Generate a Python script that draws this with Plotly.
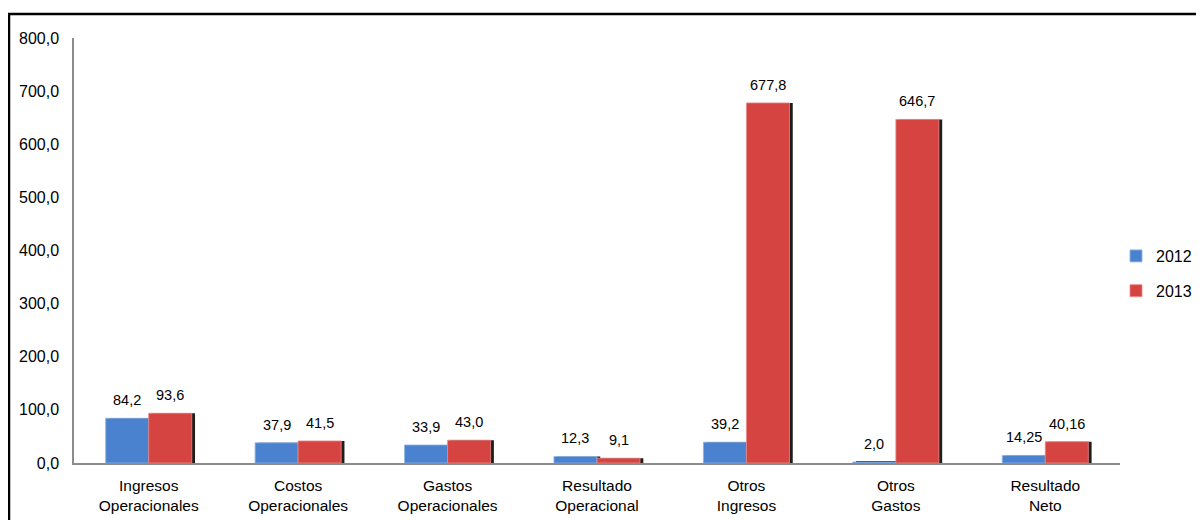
import plotly.graph_objects as go

categories = ["Ingresos<br>Operacionales", "Costos<br>Operacionales", "Gastos<br>Operacionales",
              "Resultado<br>Operacional", "Otros<br>Ingresos", "Otros<br>Gastos", "Resultado<br>Neto"]
values_2012 = [84.2, 37.9, 33.9, 12.3, 39.2, 2.0, 14.25]
values_2013 = [93.6, 41.5, 43.0, 9.1, 677.8, 646.7, 40.16]
labels_2012 = ["84,2", "37,9", "33,9", "12,3", "39,2", "2,0", "14,25"]
labels_2013 = ["93,6", "41,5", "43,0", "9,1", "677,8", "646,7", "40,16"]
y_ticks = [0, 100, 200, 300, 400, 500, 600, 700, 800]

title_text = "Gráfico No. 3 Estado de Resultados"

BLUE = "#4A82CF"
RED = "#D64441"
SHADOW = "#1e1e1e"
BW = 0.288
SH = 0.022

# the page body adds an 8px offset; the figure is laid out in page pixels minus it
W, H = 1196, 512
L, R, T, B = 66, 84, 30, 57
PW, PH = W - L - R, H - T - B
BAR_PX = BW * PW / len(categories)


def px_x(x):
    return (x - L) / PW


def px_y(y):
    return (H - B - y) / PH


fig = go.Figure()

# shadows (3D effect)
fig.add_trace(go.Bar(x=categories, y=values_2012, width=BW, offset=-BW + SH,
                     marker=dict(color=SHADOW, line=dict(width=0)),
                     showlegend=False, hoverinfo="skip"))
fig.add_trace(go.Bar(x=categories, y=values_2013, width=BW, offset=SH,
                     marker=dict(color=SHADOW, line=dict(width=0)),
                     showlegend=False, hoverinfo="skip"))

fig.add_trace(go.Bar(x=categories, y=values_2012, width=BW, offset=-BW, name="2012",
                     marker=dict(color=BLUE, line=dict(color="#8fb4e6", width=0.8)),
                     legendgroup="a"))
fig.add_trace(go.Bar(x=categories, y=values_2013, width=BW, offset=0, name="2013",
                     marker=dict(color=RED, line=dict(color="#e88a88", width=0.8)),
                     legendgroup="b"))

annotations = []
for cat, v, t in zip(categories, values_2012, labels_2012):
    annotations.append(dict(x=cat, y=v, text=t, xref="x", yref="y", showarrow=False,
                            xanchor="center", yanchor="bottom", xshift=-BAR_PX / 2, yshift=8,
                            font=dict(size=14.5, color="#000000")))
for cat, v, t in zip(categories, values_2013, labels_2013):
    annotations.append(dict(x=cat, y=v, text=t, xref="x", yref="y", showarrow=False,
                            xanchor="center", yanchor="bottom", xshift=BAR_PX / 2, yshift=8,
                            font=dict(size=14.5, color="#000000")))
annotations.append(dict(text="<b>" + title_text + "</b>", xref="paper", yref="paper",
                        x=px_x(604), y=px_y(5),
                        xanchor="center", yanchor="bottom", showarrow=False,
                        font=dict(size=25, color="#000000")))

fig.update_layout(
    width=W, height=H,
    margin=dict(l=L, r=R, t=T, b=B, autoexpand=False),
    barmode="overlay",
    paper_bgcolor="white", plot_bgcolor="white",
    font=dict(family="Liberation Sans, Arial, sans-serif", size=16, color="#000000"),
    separators=",.",
    showlegend=True,
    legend=dict(x=1108 / W, y=1 - 231 / H, xref="container", yref="container",
                xanchor="left", yanchor="top",
                font=dict(size=16), tracegroupgap=11, itemwidth=30,
                bgcolor="rgba(0,0,0,0)"),
    xaxis=dict(range=[-0.5, 6.5], showline=True, linecolor="#8c8c8c", linewidth=2,
               ticks="", showgrid=False, tickfont=dict(size=15.5), automargin=False,
               ticklabelstandoff=7),
    yaxis=dict(range=[0, 800], tickvals=y_ticks, tickformat=".1f", showline=True,
               linecolor="#8c8c8c", linewidth=1.5, ticks="", showgrid=False,
               zeroline=False, ticklabelstandoff=10, tickfont=dict(size=16),
               automargin=False),
    shapes=[dict(type="rect", xref="paper", yref="paper",
                 x0=px_x(1), x1=px_x(W + 10),
                 y0=px_y(H + 20), y1=px_y(6),
                 line=dict(color="#000000", width=2.5), layer="below")],
    annotations=annotations,
)

fig.write_html("out.html")
